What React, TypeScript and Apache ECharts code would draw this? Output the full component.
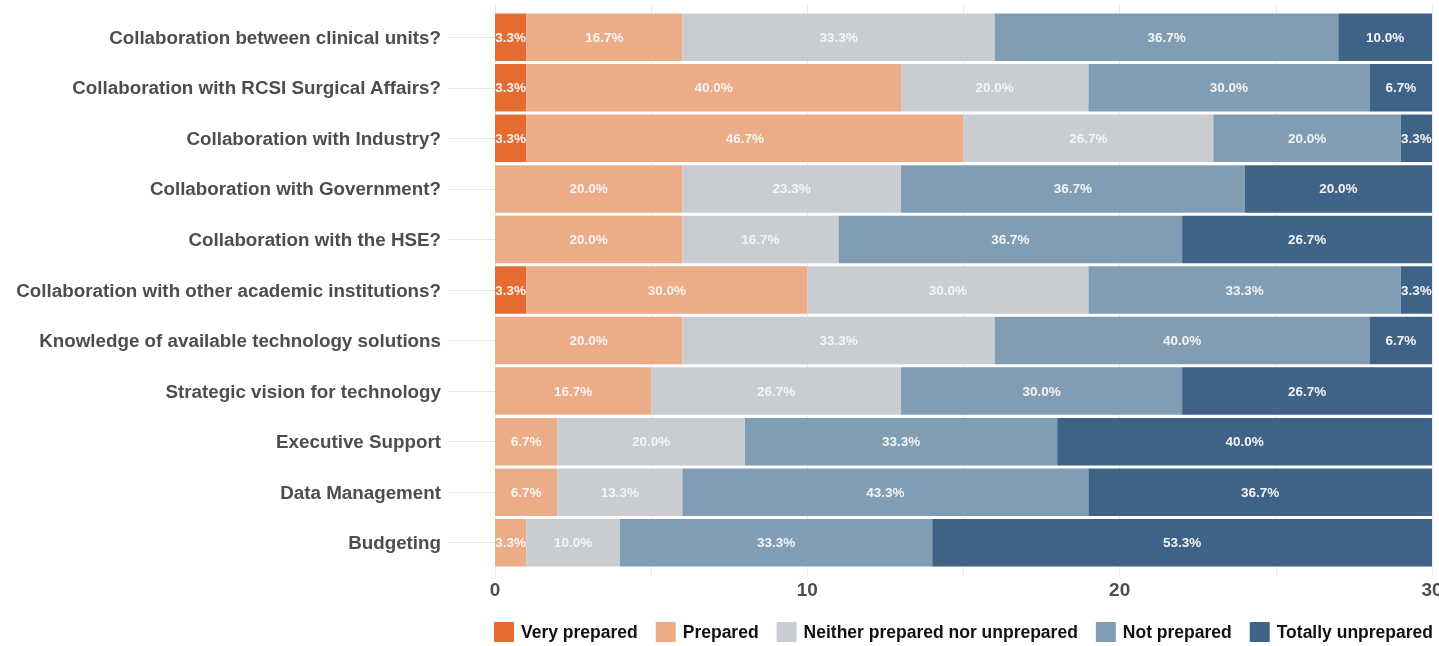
import React, { useEffect, useRef } from "react";
import * as echarts from "echarts";

const categories = [
  "Collaboration between clinical units?",
  "Collaboration with RCSI Surgical Affairs?",
  "Collaboration with Industry?",
  "Collaboration with Government?",
  "Collaboration with the HSE?",
  "Collaboration with other academic institutions?",
  "Knowledge of available technology solutions",
  "Strategic vision for technology",
  "Executive Support",
  "Data Management",
  "Budgeting",
];

const seriesNames = [
  "Very prepared",
  "Prepared",
  "Neither prepared nor unprepared",
  "Not prepared",
  "Totally unprepared",
];

const veryPrepared = [1, 1, 1, 0, 0, 1, 0, 0, 0, 0, 0];
const prepared = [5, 12, 14, 6, 6, 9, 6, 5, 2, 2, 1];
const neither = [10, 6, 8, 7, 5, 9, 10, 8, 6, 4, 3];
const notPrepared = [11, 9, 6, 11, 11, 10, 12, 9, 10, 13, 10];
const totallyUnprepared = [3, 2, 1, 6, 8, 1, 2, 8, 12, 11, 16];

const colors = ["#E46C31", "#ECAC87", "#C9CDD1", "#819DB3", "#3F6386"];
const total = 30;
const xTicks = [0, 10, 20, 30];

export default function App() {
  const ref = useRef<HTMLDivElement>(null);
  useEffect(() => {
    if (!ref.current) return;
    const chart = echarts.init(ref.current, null, { renderer: "svg" });
    const all = [veryPrepared, prepared, neither, notPrepared, totallyUnprepared];
    const font = "'Liberation Sans', Arial, Helvetica, sans-serif";
    chart.setOption({
      animation: false,
      textStyle: { fontFamily: font },
      grid: [
        {
          left: 495,
          right: 7,
          top: 12,
          bottom: 78,
          containLabel: false,
          outerBoundsMode: "none",
        },
        {
          left: 495,
          right: 7,
          top: 5,
          bottom: 71,
          containLabel: false,
          outerBoundsMode: "none",
        },
      ],
      legend: {
        bottom: 4,
        left: 494,
        width: 944,
        padding: 0,
        itemWidth: 20,
        itemHeight: 20,
        itemGap: 18,
        icon: "rect",
        textStyle: {
          fontSize: 17.5,
          fontWeight: "bold",
          color: "#111",
          fontFamily: font,
          padding: [0, 0, 0, 2],
        },
        data: seriesNames,
      },
      xAxis: [
        {
          type: "value",
          gridIndex: 0,
          min: 0,
          max: 30,
          interval: 10,
          axisLine: { show: false },
          axisTick: { show: false },
          splitLine: { show: false },
          axisLabel: {
            fontSize: 19,
            fontWeight: "bold",
            color: "#4d4d4d",
            margin: 12,
            fontFamily: font,
            formatter: (v: number) => (xTicks.includes(v) ? String(v) : ""),
          },
        },
        {
          type: "value",
          gridIndex: 1,
          min: 0,
          max: 30,
          interval: 5,
          axisLine: { show: false },
          axisTick: { show: false },
          axisLabel: { show: false },
          splitLine: { show: true, lineStyle: { color: "#ebebeb", width: 1 } },
        },
      ],
      yAxis: [
        {
          type: "category",
          gridIndex: 0,
          inverse: true,
          data: categories,
          axisLine: { show: false },
          axisTick: {
            show: true,
            alignWithLabel: true,
            length: 47,
            lineStyle: { color: "#e6e6e6" },
          },
          axisLabel: {
            fontSize: 18.8,
            fontWeight: "bold",
            color: "#4d4d4d",
            margin: 54,
            fontFamily: font,
          },
        },
        {
          type: "value",
          gridIndex: 1,
          show: false,
          min: 0,
          max: 1,
        },
      ],
      series: all.map((arr, i) => ({
        name: seriesNames[i],
        type: "bar",
        stack: "total",
        xAxisIndex: 0,
        yAxisIndex: 0,
        barCategoryGap: "6%",
        itemStyle: { color: colors[i] },
        label: {
          show: true,
          position: "inside",
          color: "#f4f4f4",
          fontSize: 13.5,
          fontWeight: "bold",
          fontFamily: font,
          formatter: (p: any) =>
            p.value > 0 ? ((p.value / total) * 100).toFixed(1) + "%" : "",
        },
        data: arr.map((v) => (v === 0 ? null : v)),
      })),
    });
    return () => chart.dispose();
  }, []);
  return (
    <div
      ref={ref}
      style={{ position: "fixed", left: 0, top: 0, width: 1439, height: 646 }}
    />
  );
}
